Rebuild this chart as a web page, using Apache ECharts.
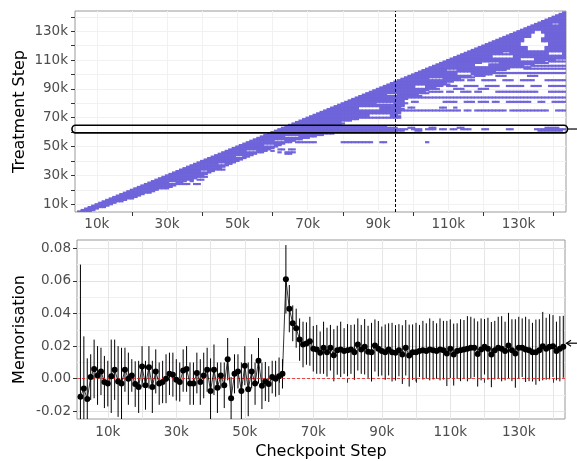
<!DOCTYPE html>
<html>
<head>
<meta charset="utf-8">
<script src="https://cdn.jsdelivr.net/npm/echarts@6/dist/echarts.min.js"></script>
<style>
html, body { margin: 0; padding: 0; background: #fff; }
#chart { width: 577px; height: 461px; }
</style>
</head>
<body>
<div id="chart"></div>
<script>
// all steps are in thousands (k)

// treatment rows: dense band runs from the diagonal (checkpoint = treatment) up to bandEnd
const bandStart = 5
const bandEnd = [
    8, 9, 10, 12, 13, 14, 15, 17, 18, 20,
    21, 22, 23, 25, 26, 27, 28, 31, 32, 33,
    34, 35, 37, 38, 39, 40, 41, 42, 43, 44,
    45, 46, 47, 48, 49, 50, 51, 52, 53, 54,
    55, 57, 58, 59, 60, 61, 62, 63, 65, 66,
    68, 70, 72, 74, 77, 95, 95, 95, 95, 92,
    79, 80, 79, 82, 84, 96, 96, 95, 96, 96,
    97, 97, 96, 97, 97, 98, 97, 97, 98, 98,
    102, 101, 104, 103, 104, 107, 106, 108, 110, 109,
    111, 114, 113, 117, 116, 122, 121, 123, 126, 125,
    133, 131, 134, 138, 137, 140, 143, 143, 143, 143,
    143, 143, 143, 143, 143, 143, 143, 143, 143, 143,
    143, 143, 143, 143, 143, 143, 143, 143, 143, 143,
    143, 143, 143, 143, 143, 143, 143, 143, 143
]
// isolated runs [treatment, firstCheckpoint, lastCheckpoint]
const sparseRuns = [
    [8, 10, 12], [21, 29, 30], [24, 34, 36], [24, 38, 39], [26, 37, 37], [27, 39, 40],
    [29, 38, 41], [34, 44, 46], [39, 44, 47], [45, 64, 65], [46, 62, 62], [46, 64, 66],
    [47, 60, 60], [48, 62, 63], [48, 65, 66], [53, 67, 72], [53, 80, 88], [53, 91, 92],
    [53, 104, 104],
    [61, 96, 97], [61, 101, 102], [61, 136, 142],
    [62, 96, 98], [62, 100, 102], [62, 104, 106], [62, 108, 109], [62, 111, 112],
    [62, 114, 116], [62, 120, 121], [62, 127, 128], [62, 135, 143],
    [63, 99, 100], [63, 105, 106], [63, 113, 114], [63, 138, 141],
    [75, 98, 113], [75, 115, 116], [75, 118, 121], [75, 122, 124], [75, 125, 126],
    [75, 128, 130], [75, 131, 133], [75, 134, 136], [75, 137, 138], [75, 141, 143],
    [77, 99, 100], [77, 108, 109], [77, 112, 112],
    [81, 100, 101], [81, 109, 112], [81, 115, 117], [81, 119, 121], [81, 123, 124],
    [81, 127, 130], [81, 131, 133], [81, 136, 137], [81, 140, 143],
    [84, 98, 143],
    [88, 105, 108], [88, 110, 111], [88, 114, 116], [88, 118, 119], [88, 124, 125],
    [88, 126, 127], [88, 128, 130], [88, 131, 135], [88, 139, 143],
    [90, 112, 114], [90, 119, 121],
    [92, 110, 112], [92, 115, 118], [92, 121, 124], [92, 127, 131], [92, 134, 136], [92, 139, 143],
    [96, 116, 117], [96, 120, 123], [96, 126, 128], [96, 131, 134], [96, 138, 143],
    [99, 118, 120], [99, 124, 126], [99, 133, 135],
    [101, 122, 143], [104, 126, 143], [106, 134, 143], [109, 139, 143]
]
// empty blocks [treatmentFrom, treatmentTo, checkpointFrom, checkpointTo]
const tileGaps = [
    [25, 25, 31, 32], [33, 33, 40, 41], [38, 38, 45, 46], [43, 43, 50, 51], [47, 47, 53, 55],
    [51, 51, 58, 60], [54, 54, 61, 63], [57, 57, 64, 67],
    [71, 72, 88, 93], [76, 77, 85, 90], [80, 80, 90, 94], [86, 86, 93, 95],
    [91, 92, 101, 103], [97, 97, 105, 108], [100, 101, 113, 116], [103, 103, 110, 112],
    [104, 104, 128, 131], [106, 107, 118, 121], [108, 108, 120, 124], [110, 111, 131, 134],
    [112, 113, 123, 128], [114, 115, 139, 142], [115, 115, 126, 127], [117, 119, 133, 137],
    [120, 122, 131, 138], [123, 125, 132, 136], [126, 128, 134, 137], [127, 127, 122, 123],
    [129, 130, 135, 136], [135, 135, 140, 141]
]
const treatmentCut = 95
const highlightRow = [59.5, 64.8]

// memorisation estimates, one per checkpoint from firstCheckpoint
const firstCheckpoint = 2
const memMean = [
    -0.011, -0.006, -0.0125, 0.001, 0.006, 0.002, 0.0045, -0.002, -0.003, 0.0015,
    0.0055, -0.0017, -0.003, 0.0055, 0, 0.002, -0.0033, -0.005, 0.0075, -0.004,
    0.007, -0.005, 0.0045, -0.003, -0.002, 0, 0.003, 0.0025, -0.0007, -0.002,
    0.005, 0.006, -0.003, -0.003, 0.0035, -0.002, 0.002, 0.0055, -0.0075, 0.0055,
    -0.0055, 0.002, -0.004, 0.012, -0.012, 0.003, 0.0045, -0.0075, 0.008, -0.0065,
    0.0045, -0.003, 0.011, -0.0043, -0.0017, -0.0033, 0.001, 0, 0.0015, 0.003,
    0.061,
    0.043, 0.034, 0.031, 0.024, 0.021, 0.0216, 0.023, 0.0184, 0.018, 0.016,
    0.019, 0.0163, 0.019, 0.0144, 0.0175, 0.018, 0.017, 0.0175, 0.018, 0.0163,
    0.021, 0.018, 0.0196, 0.0165, 0.0163, 0.0204, 0.0184, 0.017, 0.0163, 0.018,
    0.0163, 0.0159, 0.0175, 0.0148, 0.019, 0.0142, 0.0163, 0.0163, 0.017, 0.0175,
    0.017, 0.018, 0.0175, 0.017, 0.018, 0.0175, 0.0155, 0.0184, 0.0148, 0.017,
    0.0175, 0.018, 0.0184, 0.019, 0.019, 0.0152, 0.018, 0.0196, 0.0184, 0.0148,
    0.0175, 0.019, 0.0184, 0.017, 0.0204, 0.0175, 0.0155, 0.019, 0.019, 0.018,
    0.0175, 0.0163, 0.0163, 0.0175, 0.02, 0.0184, 0.0196, 0.02, 0.017, 0.0184, 0.0196
]
const memHalf = [
    0.081, 0.032, 0.025, 0.014, 0.018, 0.018, 0.0145, 0.016, 0.014, 0.0225,
    0.0185, 0.0217, 0.022, 0.0135, 0.016, 0.010, 0.014, 0.016, 0.0125, 0.015,
    0.013, 0.016, 0.0135, 0.013, 0.013, 0.015, 0.013, 0.0135, 0.0127, 0.012,
    0.013, 0.014, 0.013, 0.013, 0.0125, 0.014, 0.014, 0.0135, 0.02, 0.0155,
    0.0155, 0.008, 0.014, 0.013, 0.013, 0.012, 0.0105, 0.0175, 0.012, 0.0165,
    0.0105, 0.013, 0.014, 0.0143, 0.012, 0.011, 0.010, 0.011, 0.0115, 0.009,
    0.021,
    0.0145, 0.011, 0.012, 0.013, 0.014, 0.013, 0.015, 0.014, 0.015, 0.013,
    0.016, 0.015, 0.014, 0.016, 0.015, 0.017, 0.014, 0.016, 0.015, 0.017,
    0.016, 0.015, 0.017, 0.016, 0.018, 0.016, 0.017, 0.015, 0.017, 0.016,
    0.018, 0.017, 0.016, 0.018, 0.017, 0.019, 0.017, 0.018, 0.016, 0.018,
    0.017, 0.019, 0.018, 0.017, 0.019, 0.018, 0.02, 0.018, 0.019, 0.017,
    0.019, 0.018, 0.02, 0.019, 0.018, 0.02, 0.019, 0.017, 0.019, 0.02,
    0.018, 0.019, 0.02, 0.018, 0.02, 0.019, 0.021, 0.019, 0.018, 0.02,
    0.019, 0.018, 0.02, 0.019, 0.021, 0.019, 0.02, 0.019, 0.018, 0.02, 0.019
]
const arrowLevel = 0.0218

// tick labels / tick marks
const stepLabels = [10, 30, 50, 70, 90, 110, 130]
const stepMarks = [20, 40, 60, 80, 100, 120, 140]
const stepGrid = [10, 20, 30, 40, 50, 60, 70, 80, 90, 100, 110, 120, 130, 140]
const memLabels = [-0.02, 0, 0.02, 0.04, 0.06, 0.08]
const memMinor = [-0.01, 0.01, 0.03, 0.05, 0.07]

const tileColor = '#6f64da'
const font = 'DejaVu Sans'

// build tiles
const cells = new Map()
bandEnd.forEach((xe, i) => {
    const t = bandStart + i
    for (let x = t; x <= xe; x++) cells.set(x + ',' + t, [x, t])
})
sparseRuns.forEach(([t, x0, x1]) => {
    for (let x = Math.max(x0, t); x <= x1; x++) cells.set(x + ',' + t, [x, t])
})
tileGaps.forEach(([t0, t1, x0, x1]) => {
    for (let t = t0; t <= t1; t++) for (let x = x0; x <= x1; x++) cells.delete(x + ',' + t)
})
const tileData = Array.from(cells.values())

const memData = memMean.map((m, i) => [firstCheckpoint + i, m])
const barData = memMean.map((m, i) => [firstCheckpoint + i, m - memHalf[i], m + memHalf[i]])

const kFmt = v => v + 'k'
const labelStyle = { color: '#4d4d4d', fontSize: 13.5, fontFamily: font }
const tickStyle = { color: '#333', width: 1 }
const titleStyle = { color: '#000', fontSize: 16, fontFamily: font }

const topX = { min: 3.8, max: 143.5 }
const botX = { min: 1, max: 143.5 }
const topY = { min: 4.6, max: 144 }
const botY = { min: -0.0247, max: 0.0851 }

const chart = echarts.init(document.getElementById('chart'))
chart.setOption({
    animation: false,
    grid: [
        { left: 75, top: 11, width: 491, height: 201, show: true, borderColor: '#9a9a9a', borderWidth: 1, outerBoundsMode: 'none' },
        { left: 77, top: 240, width: 488, height: 179, show: true, borderColor: '#9a9a9a', borderWidth: 1, outerBoundsMode: 'none' }
    ],
    xAxis: [
        {
            gridIndex: 0, type: 'value', min: topX.min, max: topX.max,
            axisLine: { show: false },
            axisTick: { show: true, length: 4, lineStyle: tickStyle, customValues: stepMarks },
            axisLabel: Object.assign({ customValues: stepLabels, formatter: kFmt, margin: 5 }, labelStyle),
            splitLine: { show: false }
        },
        {
            gridIndex: 0, type: 'value', min: topX.min, max: topX.max,
            axisLine: { show: false }, axisLabel: { show: false },
            axisTick: { show: false, customValues: stepGrid },
            splitLine: { show: true, lineStyle: { color: '#f1f1f1', width: 1 } }
        },
        {
            gridIndex: 1, type: 'value', min: botX.min, max: botX.max,
            name: 'Checkpoint Step', nameLocation: 'middle', nameGap: 25,
            nameTextStyle: titleStyle,
            axisLine: { show: false },
            axisTick: { show: true, length: 4, lineStyle: tickStyle, customValues: stepMarks },
            axisLabel: Object.assign({ customValues: stepLabels, formatter: kFmt, margin: 6 }, labelStyle),
            splitLine: { show: false }
        },
        {
            gridIndex: 1, type: 'value', min: botX.min, max: botX.max,
            axisLine: { show: false }, axisLabel: { show: false },
            axisTick: { show: false, customValues: stepGrid },
            splitLine: { show: true, lineStyle: { color: '#e6e6e6', width: 1 } }
        }
    ],
    yAxis: [
        {
            gridIndex: 0, type: 'value', min: topY.min, max: topY.max,
            name: 'Treatment Step', nameLocation: 'middle', nameGap: 47, nameMoveOverlap: false,
            nameTextStyle: titleStyle,
            axisLine: { show: false },
            axisTick: { show: true, length: 4, lineStyle: tickStyle, customValues: stepGrid },
            axisLabel: Object.assign({ customValues: stepLabels, formatter: kFmt, margin: 7 }, labelStyle),
            splitLine: { show: true, lineStyle: { color: '#f1f1f1', width: 1 } }
        },
        {
            gridIndex: 1, type: 'value', min: botY.min, max: botY.max,
            name: 'Memorisation', nameLocation: 'middle', nameGap: 49, nameMoveOverlap: false,
            nameTextStyle: titleStyle,
            axisLine: { show: false },
            axisTick: { show: true, length: 4, lineStyle: tickStyle, customValues: memLabels },
            axisLabel: Object.assign({ customValues: memLabels, formatter: v => v.toFixed(2), margin: 6 }, labelStyle),
            splitLine: { show: true, lineStyle: { color: '#e3e3e3', width: 1 } }
        },
        {
            gridIndex: 1, type: 'value', min: botY.min, max: botY.max,
            axisLine: { show: false }, axisLabel: { show: false },
            axisTick: { show: false, customValues: memMinor },
            splitLine: { show: true, lineStyle: { color: '#f0f0f0', width: 1 } }
        }
    ],
    series: [
        {
            type: 'custom', xAxisIndex: 0, yAxisIndex: 0, clip: true, silent: true,
            data: tileData,
            renderItem(params, api) {
                // slight overlap between neighbours so no white seams show
                const a = api.coord([api.value(0) - 0.62, api.value(1) + 0.75])
                const b = api.coord([api.value(0) + 0.62, api.value(1) - 0.75])
                return {
                    type: 'rect',
                    shape: { x: a[0], y: a[1], width: b[0] - a[0], height: b[1] - a[1] },
                    style: { fill: tileColor }
                }
            },
            markLine: {
                silent: true, symbol: ['none', 'none'], label: { show: false },
                lineStyle: { color: '#000', type: [3, 2], width: 1 },
                data: [{ xAxis: treatmentCut }]
            }
        },
        {
            type: 'custom', xAxisIndex: 2, yAxisIndex: 1, clip: true, silent: true,
            data: barData,
            renderItem(params, api) {
                const lo = api.coord([api.value(0), api.value(1)])
                const hi = api.coord([api.value(0), api.value(2)])
                return {
                    type: 'line',
                    shape: { x1: lo[0], y1: lo[1], x2: hi[0], y2: hi[1] },
                    style: { stroke: '#000', lineWidth: 1 }
                }
            }
        },
        {
            type: 'line', xAxisIndex: 2, yAxisIndex: 1, data: memData,
            symbol: 'circle', symbolSize: 6, showSymbol: true,
            itemStyle: { color: '#000' },
            lineStyle: { color: '#000', width: 0.8 },
            z: 5,
            markLine: {
                silent: true, symbol: ['none', 'none'], label: { show: false },
                lineStyle: { color: '#e8211d', type: [3, 2], width: 0.8 },
                data: [{ yAxis: 0 }]
            }
        }
    ]
})

// annotations: highlighted treatment row and arrow at the plateau level
const pTop = chart.convertToPixel({ seriesIndex: 0 }, [topX.min, highlightRow[1]])
const pBot = chart.convertToPixel({ seriesIndex: 0 }, [topX.max, highlightRow[0]])
const pArrow = chart.convertToPixel({ seriesIndex: 2 }, [botX.max, arrowLevel])
const rx0 = pTop[0] - 3, rx1 = pBot[0] + 1.5
const ry = (pTop[1] + pBot[1]) / 2
chart.setOption({
    graphic: [
        {
            type: 'rect', z: 100,
            shape: { x: rx0, y: pTop[1], width: rx1 - rx0, height: pBot[1] - pTop[1], r: 3.5 },
            style: { fill: 'none', stroke: '#000', lineWidth: 1.6 }
        },
        {
            type: 'line', z: 100,
            shape: { x1: rx1, y1: ry, x2: 577, y2: ry },
            style: { stroke: '#000', lineWidth: 1.2 }
        },
        {
            type: 'polyline', z: 100,
            shape: { points: [[pArrow[0] + 6, pArrow[1] - 3], [pArrow[0] + 1.5, pArrow[1]], [pArrow[0] + 6, pArrow[1] + 3]] },
            style: { fill: 'none', stroke: '#000', lineWidth: 1.2 }
        },
        {
            type: 'line', z: 100,
            shape: { x1: pArrow[0] + 1.5, y1: pArrow[1], x2: 577, y2: pArrow[1] },
            style: { stroke: '#000', lineWidth: 1.2 }
        }
    ]
})
</script>
</body>
</html>
